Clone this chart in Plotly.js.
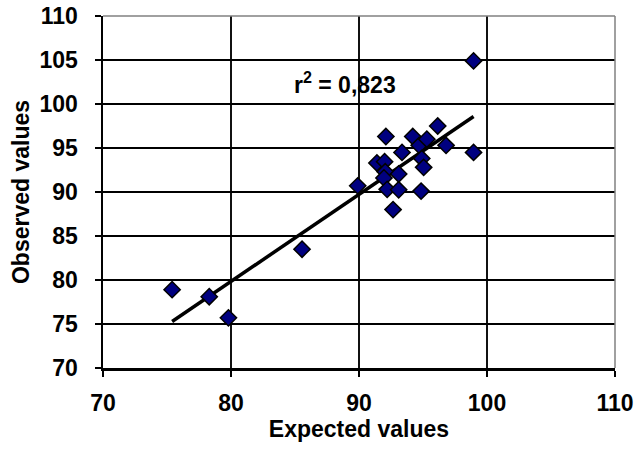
<!DOCTYPE html>
<html>
<head>
<meta charset="utf-8">
<script src="https://cdn.plot.ly/plotly-3.0.1.min.js"></script>
<style>html,body{margin:0;padding:0;background:#fff;}#chart{width:638px;height:458px;}</style>
</head>
<body>
<div id="chart"></div>
<script>
// Expected (x) and observed (y) values
const expectedValues = [75.4, 78.3, 79.8, 85.55, 89.9, 92.1, 91.4, 92.0, 92.05, 91.95, 92.2, 93.1, 93.1, 92.66, 93.36, 94.2, 94.7, 95.3, 96.15, 96.8, 94.9, 95.05, 94.85, 98.95, 98.95];
const observedValues = [78.9, 78.1, 75.7, 83.5, 90.7, 96.3, 93.3, 93.45, 92.3, 91.6, 90.3, 90.25, 92.05, 88.0, 94.5, 96.3, 95.3, 96.0, 97.5, 95.3, 93.8, 92.8, 90.1, 104.9, 94.5];
const xTickValues = [70, 80, 90, 100, 110];
const yTickValues = [70, 75, 80, 85, 90, 95, 100, 105, 110];
const r2Label = 'r<sup>2</sup> = 0,823';
const xTitle = 'Expected values';
const yTitle = 'Observed values';

// least-squares trend line computed from the data
const n = expectedValues.length;
const mx = expectedValues.reduce((a, b) => a + b, 0) / n;
const my = observedValues.reduce((a, b) => a + b, 0) / n;
let sxy = 0, sxx = 0;
for (let i = 0; i < n; i++) {
  sxy += (expectedValues[i] - mx) * (observedValues[i] - my);
  sxx += (expectedValues[i] - mx) ** 2;
}
const slope = sxy / sxx;
const intercept = my - slope * mx;
const xMin = Math.min(...expectedValues), xMax = Math.max(...expectedValues);
const trendX = [xMin, xMax];
const trendY = trendX.map(v => intercept + slope * v);

const font = {family: 'Arial, "Liberation Sans", sans-serif', size: 23, color: '#000', weight: 'bold'};

const data = [
  {
    x: trendX, y: trendY, type: 'scatter', mode: 'lines',
    line: {color: '#000', width: 3.5}, hoverinfo: 'skip', showlegend: false
  },
  {
    x: expectedValues, y: observedValues, type: 'scatter', mode: 'markers',
    marker: {symbol: 'diamond', size: 12.5, color: '#000080', line: {color: '#000', width: 1.5}},
    showlegend: false
  }
];

const layout = {
  width: 638, height: 458,
  margin: {l: 102.7, r: 23.3, t: 16, b: 90},
  paper_bgcolor: '#fff', plot_bgcolor: '#fff',
  font: font,
  xaxis: {
    range: [70, 110], tickvals: xTickValues, ticktext: xTickValues.map(String),
    showgrid: true, gridcolor: '#111', gridwidth: 1.5,
    showline: true, linecolor: '#000', linewidth: 3,
    ticks: 'outside', ticklen: 6, tickwidth: 2, tickcolor: '#000',
    ticklabelstandoff: 6,
    zeroline: false,
    tickfont: font,
    title: {text: xTitle, font: font, standoff: 4}
  },
  yaxis: {
    range: [70, 110], tickvals: yTickValues, ticktext: yTickValues.map(String),
    showgrid: true, gridcolor: '#000', gridwidth: 1.5,
    showline: true, linecolor: '#000', linewidth: 2.5,
    ticks: 'outside', ticklen: 6, tickwidth: 2, tickcolor: '#000',
    ticklabelstandoff: 12,
    zeroline: false,
    tickfont: font,
    title: {text: yTitle, font: font, standoff: 4}
  },
  shapes: [
    {type: 'line', xref: 'paper', yref: 'paper', x0: 0, x1: 1, y0: 1, y1: 1, line: {color: '#808080', width: 1.5}},
    {type: 'line', xref: 'paper', yref: 'paper', x0: 1, x1: 1, y0: 0, y1: 1, line: {color: '#808080', width: 1.5}}
  ],
  annotations: [
    {x: 88.93, y: 102.4, xref: 'x', yref: 'y', text: r2Label, showarrow: false,
     xanchor: 'center', yanchor: 'middle', font: font}
  ]
};

Plotly.newPlot('chart', data, layout, {displayModeBar: false, staticPlot: true});
</script>
</body>
</html>
